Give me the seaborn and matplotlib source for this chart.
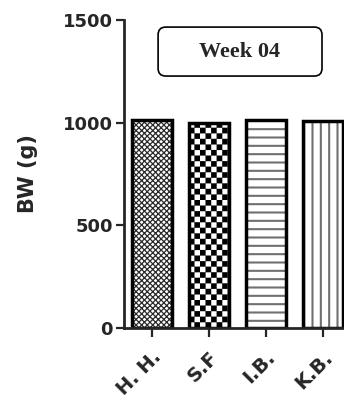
import numpy as np
import pandas as pd
import matplotlib
matplotlib.use("Agg")
import matplotlib.pyplot as plt
import matplotlib.hatch as mhatch
import matplotlib.colors as mcolors
import matplotlib.transforms as mtrans
from matplotlib.patches import FancyBboxPatch
from matplotlib.path import Path
import seaborn as sns

# ---- data ----
groups = ["H. H.", "S.F", "I.B.", "K.B."]
bw_values = [1015, 1000, 1015, 1008]
y_ticks = [0, 500, 1000, 1500]
panel_title = "Week 04"
y_label = "BW (g)"


# custom checkerboard hatch ('c')
class CheckerHatch(mhatch.HatchPatternBase):
    def __init__(self, hatch, density):
        n = hatch.count('c') * density
        if n % 2:
            n += 1
        self.n = n
        self.num_vertices = (n * n // 2) * 5 if n else 0

    def set_vertices_and_codes(self, vertices, codes):
        n = self.n
        s = 1.0 / n
        vparts, cparts = [], []
        for i in range(n):
            for j in range(n):
                if (i + j) % 2 == 0:
                    x0, y0 = i * s, j * s
                    vparts.append([[x0, y0], [x0 + s, y0], [x0 + s, y0 + s],
                                   [x0, y0 + s], [x0, y0]])
                    cparts.append([Path.MOVETO, Path.LINETO, Path.LINETO,
                                   Path.LINETO, Path.CLOSEPOLY])
        vertices[:] = np.concatenate(vparts)
        codes[:] = np.concatenate(cparts)


mhatch._hatch_types.append(CheckerHatch)
mhatch._validate_hatch_pattern = lambda h: None

sns.set_style("ticks")
plt.rcParams['font.family'] = ['DejaVu Sans']

fig = plt.figure(figsize=(3.44, 4.03), dpi=100)
ax = fig.add_axes([124 / 344, 75 / 403, 220 / 344, 308 / 403])

df = pd.DataFrame({"group": groups, "bw": bw_values})
sns.barplot(data=df, x="group", y="bw", color="white", edgecolor="black",
            linewidth=2.5, width=0.7, saturation=1, ax=ax, errorbar=None)

hatches = ["xxxxxx", "ccc", "--", "||"]
hcolors = ["#2a2a2a", "black", "#707070", "#707070"]
hlw = [0.9, 0.1, 1.5, 1.5]
for p, h, hc, lw in zip(ax.patches, hatches, hcolors, hlw):
    p.set_hatch(h)
    p._hatch_color = mcolors.to_rgba(hc)
    if hasattr(p, "set_hatch_linewidth"):
        p.set_hatch_linewidth(lw)

ax.set_xlim(-0.49, 3.37)
ax.set_ylim(0, 1500)
ax.set_yticks(y_ticks)
ax.set_yticklabels([str(t) for t in y_ticks], fontsize=13, fontweight="bold")
ax.set_xticks(range(len(groups)))
ax.set_xticklabels(groups, fontsize=14, fontweight="bold", rotation=45,
                   ha="right", va="top", rotation_mode="anchor")
shift = mtrans.ScaledTranslation(-3 / 100, 0, fig.dpi_scale_trans)
for lbl in ax.get_xticklabels():
    lbl.set_transform(lbl.get_transform() + shift)
ax.set_xlabel("")
ax.set_ylabel(y_label, fontsize=15, fontweight="bold")
ax.yaxis.set_label_coords(-0.39, 0.5)

for s in ["top", "right"]:
    ax.spines[s].set_visible(False)
for s in ["left", "bottom"]:
    ax.spines[s].set_linewidth(2.0)
ax.tick_params(axis="y", length=6, width=1.6, pad=2, direction="out")
ax.tick_params(axis="x", length=6.5, width=1.6, pad=7.5, direction="out")

box = FancyBboxPatch((0.155, 0.818), 0.745, 0.159, transform=ax.transAxes,
                     boxstyle="round,pad=0,rounding_size=0.035",
                     mutation_aspect=220 / 308, facecolor="white",
                     edgecolor="black", linewidth=1.2, clip_on=False)
ax.add_patch(box)
ax.text(0.527, 0.895, panel_title, transform=ax.transAxes, ha="center",
        va="center", fontsize=16, fontweight="bold",
        family=["Liberation Serif"])

fig.savefig("out.png", dpi=100)
